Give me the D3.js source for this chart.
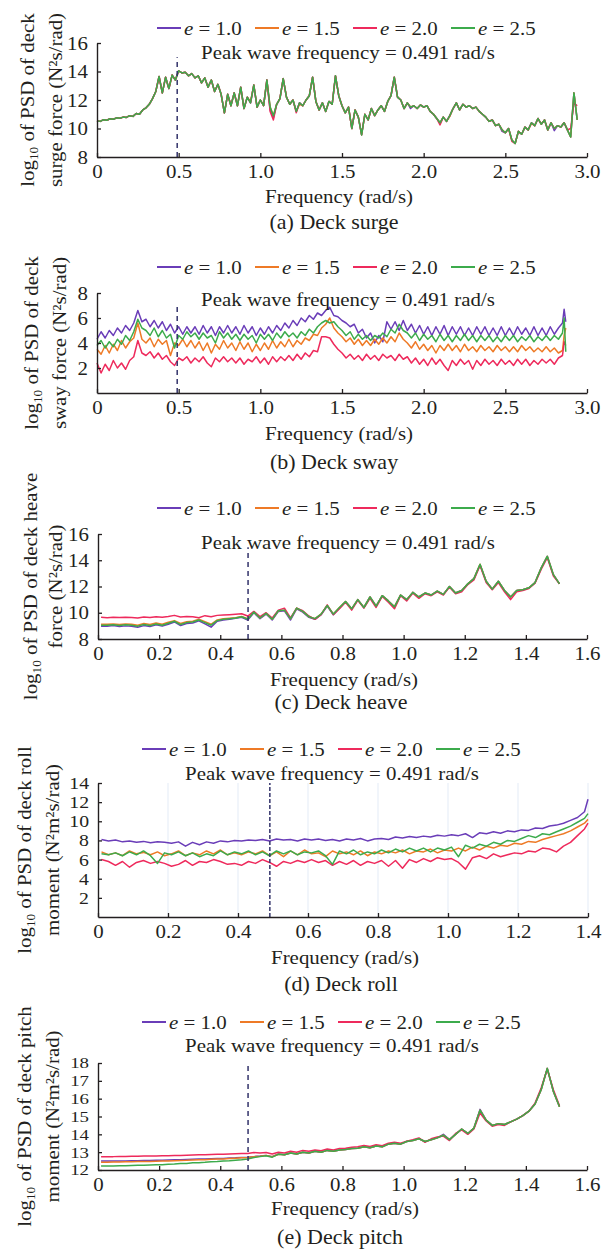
<!DOCTYPE html>
<html>
<head>
<meta charset="utf-8">
<script src="https://cdn.jsdelivr.net/npm/d3@7"></script>
<style>
  body { margin: 0; background: #fff; }
  text { font-family: "Liberation Serif", "Times New Roman", serif; fill: #231f20; }
</style>
</head>
<body>
<div id="chart"></div>
<script>
// ---------- data ----------

const seriesNames = ["1.0", "1.5", "2.0", "2.5"];
const peakWaveFreq = 0.491;

// (a) surge
const surgeFreq = [0,0.02,0.04,0.06,0.08,0.1,0.12,0.14,0.16,0.18,0.2,0.22,0.24,0.26,0.28,0.3,0.32,0.34,0.36,0.38,0.4,0.42,0.44,0.46,0.48,0.5,0.52,0.54,0.56,0.58,0.6,0.62,0.64,0.66,0.68,0.7,0.72,0.74,0.76,0.78,0.8,0.82,0.84,0.86,0.88,0.9,0.92,0.94,0.96,0.98,1,1.02,1.04,1.06,1.08,1.1,1.12,1.14,1.16,1.18,1.2,1.22,1.24,1.26,1.28,1.3,1.32,1.34,1.36,1.38,1.4,1.42,1.44,1.46,1.48,1.5,1.52,1.54,1.56,1.58,1.6,1.62,1.64,1.66,1.68,1.7,1.72,1.74,1.76,1.78,1.8,1.82,1.84,1.86,1.88,1.9,1.92,1.94,1.96,1.98,2,2.02,2.04,2.06,2.08,2.1,2.12,2.14,2.16,2.18,2.2,2.22,2.24,2.26,2.28,2.3,2.32,2.34,2.36,2.38,2.4,2.42,2.44,2.46,2.48,2.5,2.52,2.54,2.56,2.58,2.6,2.62,2.64,2.66,2.68,2.7,2.72,2.74,2.76,2.78,2.8,2.82,2.84,2.86,2.88,2.9,2.92,2.94];
const surgeE10 = [10.55,10.50,10.62,10.58,10.68,10.65,10.75,10.72,10.80,10.78,
  10.90,10.85,11.05,11.00,11.30,11.45,11.70,12.10,12.60,13.65,
  12.50,13.60,12.80,13.75,13.40,14.05,13.90,13.95,13.70,13.85,
  13.55,13.70,13.20,13.55,12.90,13.40,12.60,13.10,12.40,11.10,
  12.40,11.60,12.50,11.60,12.90,11.40,12.20,11.80,13.05,11.50,
  12.00,11.60,13.40,11.30,10.75,11.70,12.10,13.50,12.20,11.70,
  12.00,11.20,11.80,11.60,12.00,12.30,13.60,11.90,11.30,11.80,
  11.20,11.90,11.70,13.70,12.30,11.60,11.10,11.50,10.00,11.30,
  10.80,9.55,11.00,10.60,11.40,10.90,11.30,11.60,11.20,11.90,
  12.30,13.60,12.20,12.00,11.40,11.80,11.40,11.60,11.40,11.65,
  11.50,11.60,11.20,11.00,10.70,10.40,10.80,10.50,10.90,11.40,
  11.80,11.30,11.70,11.50,11.60,11.40,11.50,11.20,11.00,10.80,
  10.50,10.60,10.20,10.30,9.80,9.70,10.00,9.20,8.95,9.80,
  9.60,10.10,9.90,10.40,10.20,10.70,10.30,10.60,9.90,10.40,
  9.85,10.20,10.10,10.40,9.90,9.40,12.50,10.60];
const surgeE15 = [10.55,10.50,10.62,10.58,10.68,10.65,10.75,10.72,10.80,10.78,
  10.90,10.85,11.05,11.00,11.30,11.45,11.70,12.10,12.60,13.65,
  12.50,13.60,12.80,13.75,13.40,14.05,13.90,13.95,13.70,13.85,
  13.55,13.70,13.20,13.55,12.90,13.40,12.60,13.10,12.40,11.10,
  12.40,11.60,12.50,11.60,12.90,11.40,12.20,11.90,13.05,11.50,
  12.00,11.60,13.40,11.50,10.90,11.70,12.10,13.50,12.20,11.70,
  12.00,11.20,11.70,11.60,12.00,12.30,13.60,11.90,11.30,11.80,
  11.20,11.90,11.70,13.70,12.30,11.60,11.10,11.50,10.00,11.30,
  10.80,9.55,11.00,10.60,11.40,10.90,11.30,11.60,11.20,11.90,
  12.30,13.60,12.20,12.00,11.40,11.80,11.50,11.60,11.40,11.65,
  11.50,11.60,11.20,11.00,10.70,10.40,10.80,10.50,10.85,11.40,
  11.80,11.30,11.70,11.50,11.60,11.40,11.50,11.20,11.00,10.80,
  10.50,10.60,10.20,10.30,9.90,9.70,10.00,9.20,8.95,9.80,
  9.60,10.10,9.90,10.35,10.20,10.70,10.30,10.60,9.90,10.40,
  10.00,10.20,10.10,10.40,9.90,9.40,12.50,10.60];
const surgeE20 = [10.55,10.50,10.62,10.58,10.68,10.65,10.75,10.72,10.80,10.78,
  10.90,10.85,11.05,11.00,11.30,11.45,11.70,12.10,12.60,13.65,
  12.50,13.60,12.80,13.75,13.40,14.05,13.90,13.95,13.70,13.85,
  13.55,13.70,13.20,13.55,12.90,13.40,12.60,13.10,12.40,11.10,
  12.40,11.60,12.50,11.60,12.90,11.40,12.20,11.80,13.05,11.50,
  12.00,11.60,13.40,11.20,10.60,11.70,12.10,13.50,12.20,11.70,
  12.00,11.10,11.80,11.60,12.00,12.30,13.60,11.90,11.30,11.80,
  11.20,11.90,11.70,13.70,12.30,11.60,11.10,11.50,10.00,11.30,
  10.80,9.60,11.00,10.60,11.40,10.90,11.30,11.60,11.20,11.90,
  12.30,13.60,12.20,12.00,11.40,11.80,11.50,11.60,11.40,11.65,
  11.50,11.60,11.20,11.00,10.70,10.25,10.80,10.50,10.90,11.40,
  11.80,11.30,11.70,11.50,11.60,11.40,11.50,11.20,11.00,10.80,
  10.50,10.60,10.20,10.30,9.90,9.70,10.00,9.10,8.95,9.80,
  9.60,10.10,9.90,10.40,10.20,10.70,10.30,10.60,9.90,10.40,
  10.00,10.20,10.10,10.40,9.90,10.00,11.80,11.60];
const surgeE25 = [10.55,10.50,10.62,10.58,10.68,10.65,10.75,10.72,10.80,10.78,
  10.90,10.85,11.05,11.00,11.30,11.45,11.70,12.10,12.60,13.65,
  12.50,13.60,12.80,13.75,13.40,14.05,13.90,13.95,13.70,13.85,
  13.55,13.70,13.20,13.55,12.90,13.40,12.60,13.10,12.40,11.10,
  12.40,11.60,12.50,11.60,12.90,11.40,12.20,11.80,13.05,11.50,
  12.00,11.60,13.40,11.50,10.90,11.70,12.10,13.50,12.20,11.70,
  12.00,11.20,11.80,11.60,12.00,12.30,13.60,11.90,11.30,11.80,
  11.20,11.90,11.70,13.70,12.30,11.60,11.10,11.50,10.00,11.30,
  10.80,9.55,11.00,10.60,11.40,10.90,11.30,11.60,11.20,11.90,
  12.30,13.60,12.20,12.00,11.40,11.80,11.50,11.60,11.40,11.65,
  11.50,11.60,11.20,11.00,10.70,10.40,10.80,10.50,10.90,11.40,
  11.80,11.30,11.70,11.50,11.60,11.40,11.50,11.20,11.00,10.80,
  10.50,10.60,10.20,10.30,9.90,9.70,10.00,9.20,8.95,9.80,
  9.60,10.10,9.90,10.40,10.20,10.70,10.30,10.60,9.90,10.40,
  10.00,10.20,10.10,10.40,9.90,9.40,12.50,10.60];

// (b) sway
const swayFreq = [0,0.025,0.05,0.075,0.1,0.125,0.15,0.175,0.2,0.225,0.25,0.275,0.3,0.325,0.35,0.375,0.4,0.425,0.45,0.475,0.5,0.525,0.55,0.575,0.6,0.625,0.65,0.675,0.7,0.725,0.75,0.775,0.8,0.825,0.85,0.875,0.9,0.925,0.95,0.975,1,1.025,1.05,1.075,1.1,1.125,1.15,1.175,1.2,1.225,1.25,1.275,1.3,1.325,1.35,1.375,1.4,1.425,1.45,1.475,1.5,1.525,1.55,1.575,1.6,1.625,1.65,1.675,1.7,1.725,1.75,1.775,1.8,1.825,1.85,1.875,1.9,1.925,1.95,1.975,2,2.025,2.05,2.075,2.1,2.125,2.15,2.175,2.2,2.225,2.25,2.275,2.3,2.325,2.35,2.375,2.4,2.425,2.45,2.475,2.5,2.525,2.55,2.575,2.6,2.625,2.65,2.675,2.7,2.725,2.75,2.775,2.8,2.825,2.85,2.86,2.87];
const swayE10 = [4.3,4.9,4.4,5.0,4.6,5.2,4.8,5.4,5.0,5.6,
  6.6,5.7,5.9,5.3,5.8,5.2,5.7,5.0,5.5,4.8,
  5.3,4.7,5.3,4.8,5.3,4.7,5.4,4.8,5.3,4.6,
  5.3,4.8,5.4,4.8,5.3,4.7,5.4,4.8,5.3,4.6,
  5.2,4.7,5.3,4.8,5.4,5.0,5.6,5.2,5.8,5.4,
  6.0,5.7,6.2,5.9,6.4,6.2,6.6,6.85,6.2,6.1,
  5.8,5.6,5.3,5.5,4.8,5.1,4.4,4.8,4.0,4.6,
  4.1,5.7,5.1,5.7,5.0,5.8,5.0,5.5,4.8,5.4,
  4.7,5.3,4.6,5.3,4.7,5.4,4.6,5.3,4.7,5.3,
  4.6,5.2,4.6,5.3,4.7,5.3,4.6,5.2,4.6,5.3,
  4.6,5.2,4.6,5.3,4.7,5.2,4.6,5.3,4.6,5.2,
  4.6,5.3,4.7,5.2,5.6,6.7,5.7];
const swayE15 = [3.5,3.1,3.8,3.2,3.9,3.4,4.2,3.6,4.1,4.4,
  5.6,4.3,4.0,4.4,3.7,4.3,3.9,4.2,3.0,4.0,
  3.8,4.3,3.7,4.2,3.6,4.1,3.4,4.0,3.2,3.9,
  3.5,4.2,3.6,4.0,3.4,4.1,3.5,4.0,3.3,3.9,
  3.4,4.0,3.5,4.2,3.6,4.1,3.7,4.3,3.7,4.2,
  3.9,4.4,4.2,4.7,4.6,5.2,5.5,6.0,5.2,4.8,
  4.5,4.1,4.4,3.9,4.3,3.8,4.2,3.8,4.3,3.9,
  4.4,4.0,4.5,4.1,4.8,4.3,4.0,3.6,4.1,3.5,
  3.9,3.4,3.8,3.2,3.8,3.4,3.9,3.4,3.8,3.3,
  3.9,3.4,3.7,3.3,3.8,3.4,3.7,3.3,3.8,3.4,
  3.7,3.3,3.7,3.3,3.8,3.4,3.7,3.3,3.6,3.3,
  3.7,3.3,3.6,3.2,3.4,4.6,5.2];
const swayE20 = [2.4,1.6,2.3,1.8,2.6,2.0,2.4,1.9,2.6,2.9,
  4.2,3.2,3.0,3.3,2.8,3.2,2.7,3.0,2.5,2.2,
  2.8,2.6,2.9,2.4,2.8,2.5,2.9,2.4,2.1,2.8,
  2.5,2.9,2.5,2.8,2.4,2.8,2.3,2.7,2.5,2.9,
  2.4,2.8,2.3,2.9,2.5,2.9,2.6,3.0,2.6,3.1,
  2.7,3.2,2.9,3.4,3.3,4.5,4.5,4.4,3.9,3.5,
  3.2,2.8,3.1,2.7,3.0,2.6,3.1,2.7,3.0,2.6,
  3.1,2.8,3.0,2.6,3.1,2.7,2.9,2.4,2.8,2.3,
  2.7,2.2,2.8,2.3,2.7,2.2,1.8,2.6,2.2,2.7,
  2.3,2.6,1.9,2.6,2.2,2.7,2.3,2.6,2.2,2.7,
  2.3,2.6,2.2,2.7,2.3,2.7,2.2,2.6,2.3,2.7,
  2.4,2.7,2.3,2.8,3.0,4.1,3.8];
const swayE25 = [3.8,4.2,3.6,4.1,3.7,4.3,3.9,4.6,4.2,4.9,
  5.9,5.2,5.0,4.6,5.2,4.5,5.0,4.4,4.7,3.6,
  4.6,4.3,4.9,4.5,4.8,4.3,4.8,4.4,4.6,4.0,
  4.9,4.4,4.8,4.3,4.7,4.2,4.7,4.3,4.6,4.0,
  4.7,4.3,4.7,4.2,4.8,4.4,4.9,4.5,4.8,4.4,
  4.9,4.6,5.1,4.8,5.3,5.6,5.8,5.6,5.7,5.3,
  5.0,4.6,4.9,4.3,4.7,4.3,4.6,4.2,4.6,4.4,
  4.8,4.5,5.1,4.8,5.5,5.0,4.8,4.4,4.8,4.2,
  4.7,4.3,4.6,4.1,4.7,4.2,4.6,4.1,4.6,4.2,
  4.7,4.2,4.6,4.1,4.6,4.2,4.6,4.1,4.5,4.1,
  4.6,4.2,4.6,4.1,4.5,4.2,4.6,4.1,4.5,4.2,
  4.6,4.2,4.6,4.3,4.8,6.0,3.3];

// (c) heave
const heaveFreq = [0.01,0.03,0.05,0.07,0.09,0.11,0.13,0.15,0.17,0.19,0.21,0.23,0.25,0.27,0.29,0.31,0.33,0.35,0.37,0.39,0.41,0.43,0.45,0.47,0.49,0.51,0.53,0.55,0.57,0.59,0.61,0.63,0.65,0.67,0.69,0.71,0.73,0.75,0.77,0.79,0.81,0.83,0.85,0.87,0.89,0.91,0.93,0.95,0.97,0.99,1.01,1.03,1.05,1.07,1.09,1.11,1.13,1.15,1.17,1.19,1.21,1.23,1.25,1.27,1.29,1.31,1.33,1.35,1.37,1.39,1.41,1.43,1.45,1.47,1.49,1.51];
const heaveE10 = [8.98,8.98,9.02,8.95,9.00,8.98,8.90,9.02,8.95,9.08,
  8.98,9.12,9.30,9.02,9.18,9.22,9.38,9.15,8.90,9.35,
  9.45,9.50,9.58,9.65,9.45,10.00,9.55,9.90,9.45,10.10,
  10.15,9.45,10.30,10.05,9.65,9.50,9.85,10.50,9.85,10.35,
  10.85,10.30,11.00,10.40,11.20,10.50,11.30,10.90,10.45,11.35,
  11.00,11.55,11.20,11.50,11.35,11.65,11.40,12.00,11.50,11.70,
  12.20,12.60,13.65,12.40,11.80,12.40,11.70,11.20,11.70,11.75,
  11.90,12.30,13.40,14.30,12.90,12.20];
const heaveE15 = [9.12,9.12,9.15,9.10,9.15,9.12,9.05,9.18,9.10,9.22,
  9.12,9.28,9.40,9.18,9.32,9.36,9.50,9.32,9.12,9.45,
  9.55,9.58,9.62,9.72,9.55,10.05,9.60,9.95,9.50,10.15,
  10.20,9.55,10.35,10.10,9.70,9.55,9.90,10.55,9.90,10.40,
  10.85,10.30,11.00,10.40,11.20,10.50,11.30,10.90,10.45,11.35,
  11.00,11.55,11.20,11.50,11.35,11.65,11.40,12.00,11.50,11.70,
  12.20,12.60,13.70,12.40,11.80,12.40,11.70,11.20,11.70,11.75,
  11.90,12.30,13.40,14.30,12.90,12.20];
const heaveE20 = [9.65,9.62,9.66,9.63,9.65,9.64,9.60,9.68,9.63,9.70,
  9.66,9.72,9.80,9.68,9.72,9.70,9.62,9.78,9.70,9.80,
  9.82,9.85,9.88,9.92,9.75,10.10,9.70,10.00,9.60,10.20,
  10.35,9.60,10.35,10.15,9.75,9.50,9.85,10.60,9.85,10.30,
  10.80,10.20,10.95,10.35,11.10,10.40,11.25,10.80,10.30,11.30,
  10.90,11.50,11.10,11.45,11.30,11.60,11.35,11.95,11.45,11.60,
  12.15,12.50,13.60,12.30,11.75,12.30,11.60,11.00,11.60,11.70,
  11.85,12.25,13.30,14.20,12.80,12.20];
const heaveE25 = [9.05,9.05,9.08,9.02,9.08,9.05,8.98,9.10,9.02,9.15,
  9.05,9.20,9.35,9.10,9.25,9.30,9.45,9.25,9.05,9.40,
  9.50,9.55,9.60,9.70,9.50,10.05,9.60,9.95,9.50,10.15,
  10.20,9.55,10.35,10.10,9.70,9.55,9.90,10.55,9.90,10.40,
  10.85,10.30,11.00,10.40,11.20,10.50,11.30,10.90,10.45,11.35,
  11.00,11.55,11.20,11.50,11.35,11.65,11.40,12.00,11.50,11.70,
  12.20,12.60,13.70,12.40,11.80,12.40,11.70,11.20,11.70,11.75,
  11.90,12.30,13.40,14.30,12.90,12.20];

// (d) roll
const rollFreq = [0.01,0.03,0.05,0.07,0.09,0.11,0.13,0.15,0.17,0.19,0.21,0.23,0.25,0.27,0.29,0.31,0.33,0.35,0.37,0.39,0.41,0.43,0.45,0.47,0.49,0.51,0.53,0.55,0.57,0.59,0.61,0.63,0.65,0.67,0.69,0.71,0.73,0.75,0.77,0.79,0.81,0.83,0.85,0.87,0.89,0.91,0.93,0.95,0.97,0.99,1.01,1.03,1.05,1.07,1.09,1.11,1.13,1.15,1.17,1.19,1.21,1.23,1.25,1.27,1.29,1.31,1.33,1.35,1.37,1.39,1.4];
const rollE10 = [8.10,7.95,8.05,7.85,7.95,7.80,7.90,7.75,7.85,7.80,
  7.70,7.85,7.40,7.80,7.55,7.85,7.70,7.95,7.85,8.00,
  7.95,8.05,8.00,8.10,7.95,8.15,8.05,8.10,7.95,8.15,
  8.05,8.15,8.00,8.10,7.95,8.15,8.05,8.20,7.95,8.15,
  8.20,8.10,8.35,8.25,8.40,8.30,8.45,8.35,8.55,8.45,
  8.60,8.50,8.70,8.30,8.80,8.70,8.90,8.75,9.00,8.90,
  9.10,9.05,9.30,9.25,9.50,9.60,9.80,10.10,10.40,11.00,
  12.30];
const rollE15 = [6.80,6.50,6.70,6.40,6.90,6.60,6.75,6.50,6.80,6.40,
  6.60,6.90,6.40,6.70,6.50,6.90,6.60,7.00,6.50,6.70,
  6.50,6.80,6.60,6.90,6.40,6.80,6.30,6.90,6.50,7.00,
  6.60,6.70,6.30,6.90,6.60,6.80,6.50,6.90,6.40,6.80,
  6.60,6.90,6.70,7.00,6.60,6.90,6.80,7.10,6.70,7.00,
  6.90,7.20,6.90,7.30,7.00,7.40,7.20,7.50,7.40,7.70,
  7.60,7.90,7.80,8.10,8.30,8.50,8.70,9.00,9.40,9.80,
  10.20];
const rollE20 = [6.00,5.80,5.40,5.80,5.20,5.70,5.90,5.60,5.80,5.60,
  5.30,5.50,5.90,5.40,5.80,5.70,6.00,5.80,5.50,5.60,
  5.40,5.80,5.60,6.00,5.70,5.30,5.80,5.60,5.90,5.70,
  6.00,5.70,5.90,5.40,5.80,5.50,5.90,5.40,5.80,5.60,
  5.90,5.30,5.90,5.10,6.00,5.70,6.10,5.80,6.20,6.00,
  6.10,5.70,5.00,6.20,6.40,6.10,6.60,6.30,6.50,6.70,
  6.60,6.90,6.80,7.20,7.10,6.80,7.40,7.80,8.50,9.20,
  9.80];
const rollE25 = [6.60,6.50,6.70,6.40,6.80,6.50,6.90,6.40,5.60,6.70,
  6.50,6.80,6.40,6.70,6.30,6.60,6.40,6.90,6.50,6.80,
  6.60,6.90,6.50,6.80,6.40,6.90,6.60,6.90,6.50,6.80,
  6.70,6.90,6.40,5.50,6.90,6.60,7.00,6.50,6.80,6.60,
  7.00,6.70,7.10,6.80,7.20,6.90,7.20,6.80,7.20,7.00,
  7.30,6.30,7.50,7.20,7.60,7.40,7.80,7.60,8.00,7.90,
  8.20,8.50,8.30,8.70,8.60,8.90,9.20,9.50,9.90,10.30,
  10.80];

// (e) pitch
const pitchFreq = [0.01,0.03,0.05,0.07,0.09,0.11,0.13,0.15,0.17,0.19,0.21,0.23,0.25,0.27,0.29,0.31,0.33,0.35,0.37,0.39,0.41,0.43,0.45,0.47,0.49,0.51,0.53,0.55,0.57,0.59,0.61,0.63,0.65,0.67,0.69,0.71,0.73,0.75,0.77,0.79,0.81,0.83,0.85,0.87,0.89,0.91,0.93,0.95,0.97,0.99,1.01,1.03,1.05,1.07,1.09,1.11,1.13,1.15,1.17,1.19,1.21,1.23,1.25,1.27,1.29,1.31,1.33,1.35,1.37,1.39,1.41,1.43,1.45,1.47,1.49,1.51];
const pitchE10 = [12.50,12.50,12.50,12.51,12.51,12.52,12.52,12.53,12.53,12.54,
  12.55,12.56,12.57,12.58,12.59,12.60,12.61,12.62,12.63,12.64,
  12.65,12.67,12.68,12.70,12.72,12.75,12.78,12.82,12.75,12.90,
  12.85,12.95,12.90,13.00,12.95,13.05,13.00,13.10,13.05,13.12,
  13.15,13.20,13.22,13.30,13.25,13.35,13.30,13.45,13.50,13.45,
  13.60,13.65,13.75,13.60,13.70,13.80,14.00,13.70,14.00,14.30,
  14.05,14.35,15.40,14.80,14.50,14.60,14.55,14.70,14.85,15.05,
  15.30,15.70,16.50,17.70,16.40,15.55];
const pitchE15 = [12.44,12.44,12.45,12.45,12.46,12.46,12.47,12.47,12.48,12.49,
  12.50,12.51,12.52,12.53,12.54,12.56,12.57,12.58,12.60,12.61,
  12.62,12.64,12.66,12.68,12.70,12.74,12.77,12.82,12.74,12.88,
  12.85,12.95,12.90,13.00,12.95,13.05,13.00,13.10,13.05,13.12,
  13.15,13.20,13.22,13.30,13.25,13.35,13.30,13.45,13.50,13.45,
  13.60,13.65,13.75,13.60,13.70,13.80,13.95,13.70,14.00,14.30,
  14.05,14.35,15.35,14.80,14.50,14.60,14.55,14.70,14.85,15.05,
  15.30,15.70,16.50,17.70,16.40,15.55];
const pitchE20 = [12.75,12.75,12.75,12.76,12.76,12.77,12.77,12.78,12.78,12.79,
  12.80,12.80,12.81,12.82,12.83,12.84,12.85,12.86,12.87,12.88,
  12.89,12.90,12.91,12.92,12.93,12.98,12.95,12.98,12.90,13.00,
  12.95,13.05,13.00,13.10,13.05,13.12,13.08,13.18,13.12,13.20,
  13.22,13.28,13.30,13.38,13.32,13.42,13.36,13.50,13.55,13.50,
  13.62,13.70,13.80,13.55,13.75,13.85,13.90,13.65,14.05,14.25,
  14.00,14.30,15.20,14.75,14.45,14.55,14.50,14.70,14.85,15.05,
  15.30,15.75,16.60,17.65,16.50,15.60];
const pitchE25 = [12.22,12.22,12.23,12.24,12.24,12.25,12.26,12.27,12.28,12.29,
  12.30,12.32,12.33,12.36,12.37,12.40,12.41,12.43,12.46,12.47,
  12.50,12.52,12.55,12.58,12.62,12.70,12.75,12.80,12.72,12.88,
  12.85,12.95,12.90,13.00,12.95,13.05,13.00,13.10,13.05,13.12,
  13.15,13.20,13.22,13.30,13.25,13.35,13.30,13.45,13.50,13.45,
  13.60,13.65,13.75,13.60,13.70,13.80,13.95,13.70,14.00,14.30,
  14.05,14.35,15.35,14.80,14.50,14.60,14.55,14.70,14.85,15.05,
  15.30,15.70,16.50,17.70,16.40,15.55];

// tick labels
const xTicksWide = [0, 0.5, 1.0, 1.5, 2.0, 2.5, 3.0];
const xTicks16 = [0, 0.2, 0.4, 0.6, 0.8, 1.0, 1.2, 1.4, 1.6];
const xTicks14 = [0, 0.2, 0.4, 0.6, 0.8, 1.0, 1.2, 1.4];
const surgeTicks = [8, 10, 12, 14, 16];
const swayTicks = [2, 4, 6, 8];
const heaveTicks = [8, 10, 12, 14, 16];
const rollTicks = [2, 4, 6, 8, 10, 12, 14];
const pitchTicks = [12, 13, 14, 15, 16, 17, 18];

// ---------- styling / layout ----------

const seriesColors = ["#6a3db8", "#ee7a26", "#ee2a5c", "#3cab4c"];
const width = 611;
const height = 1250;
const FS = 19;     // font size
const SX = 1.1;    // the figure's serif type is a bit wider than Times

const panels = [
  { freq: surgeFreq, series: [surgeE10, surgeE15, surgeE20, surgeE25],
    x0: 97, x1: 587, yTop: 43, yBot: 157, xMax: 3.0, xTicks: xTicksWide,
    yDomain: [8, 16], yTicks: surgeTicks, yTickFS: FS, dashTo: 15,
    legendX: 157, legendY: 28, peakX: 348, peakY: 52,
    xlabelX: 339, xlabelY: 196, captionX: 334, captionY: 222,
    yl1X: 27, yl2X: 55, ylab1: " of PSD of deck", ylab2: "surge force (N²s/rad)",
    caption: "(a) Deck surge", dash: "5,4", grid: false },
  { freq: swayFreq, series: [swayE10, swayE15, swayE20, swayE25],
    x0: 97, x1: 587, yTop: 293, yBot: 393, xMax: 3.0, xTicks: xTicksWide,
    yDomain: [0, 8], yTicks: swayTicks, yTickFS: FS, dashTo: 7,
    legendX: 157, legendY: 267, peakX: 348, peakY: 299,
    xlabelX: 339, xlabelY: 433, captionX: 334, captionY: 462,
    yl1X: 31, yl2X: 59, ylab1: " of PSD of deck", ylab2: "sway force (N²s/rad)",
    caption: "(b) Deck sway", dash: "5,4", grid: false },
  { freq: heaveFreq, series: [heaveE10, heaveE15, heaveE20, heaveE25],
    x0: 98, x1: 587, yTop: 534, yBot: 639, xMax: 1.6, xTicks: xTicks16,
    yDomain: [8, 16], yTicks: heaveTicks, yTickFS: FS, dashTo: 15,
    legendX: 157, legendY: 508, peakX: 348, peakY: 542,
    xlabelX: 344, xlabelY: 679, captionX: 341, captionY: 702,
    yl1X: 30, yl2X: 55, ylab1: " of PSD of deck heave", ylab2: "force (N²s/rad)",
    caption: "(c) Deck heave", dash: "5,4", grid: false },
  { freq: rollFreq, series: [rollE10, rollE15, rollE20, rollE25],
    x0: 98, x1: 588, yTop: 783, yBot: 917, xMax: 1.4, xTicks: xTicks14,
    yDomain: [0, 14], yTicks: rollTicks, yTickFS: 17, dashTo: 14,
    legendX: 142, legendY: 749, peakX: 332, peakY: 773,
    xlabelX: 345, xlabelY: 957, captionX: 341, captionY: 984,
    yl1X: 24, yl2X: 52, ylab1: " of PSD of deck roll", ylab2: "moment (N²m²s/rad)",
    caption: "(d) Deck roll", dash: "4,2", grid: true },
  { freq: pitchFreq, series: [pitchE10, pitchE15, pitchE20, pitchE25],
    x0: 98, x1: 587, yTop: 1063, yBot: 1170, xMax: 1.6, xTicks: xTicks16,
    yDomain: [12, 18], yTicks: pitchTicks, yTickFS: 15.5, dashTo: 18,
    legendX: 142, legendY: 1022, peakX: 332, peakY: 1045,
    xlabelX: 345, xlabelY: 1208, captionX: 340, captionY: 1237,
    yl1X: 24, yl2X: 52, ylab1: " of PSD of deck pitch", ylab2: "moment (N²m²s/rad)",
    caption: "(e) Deck pitch", dash: "5,4", grid: false },
];

const svg = d3.select("#chart").append("svg")
  .attr("width", width)
  .attr("height", height)
  .style("background", "#fff");

// text with optional italic / subscript pieces, stretched horizontally
function richText(parent, x, y, parts, anchor = "middle", rotate = 0, size = FS) {
  const t = parent.append("text")
    .attr("transform", `translate(${x},${y})${rotate ? ` rotate(${rotate})` : ""} scale(${SX},1)`)
    .attr("text-anchor", anchor)
    .attr("dy", "0.35em")
    .style("font-size", size + "px");
  parts.forEach((p) => {
    const s = t.append("tspan").text(p.t);
    if (p.italic) s.style("font-style", "italic");
    if (p.sub) s.style("font-size", "12px").attr("dy", 4);
    if (p.back) s.attr("dy", -4);
  });
  return t;
}

const xFmt = (d) => (d === 0 ? "0" : d.toFixed(1));

panels.forEach((p) => {
  const g = svg.append("g");

  const x = d3.scaleLinear().domain([0, p.xMax]).range([p.x0, p.x1]);
  const y = d3.scaleLinear().domain(p.yDomain).range([p.yBot, p.yTop]);

  // faint grid (roll panel only)
  if (p.grid) {
    g.append("g")
      .selectAll("line")
      .data(p.xTicks.slice(1))
      .join("line")
      .attr("x1", (d) => x(d))
      .attr("x2", (d) => x(d))
      .attr("y1", p.yBot)
      .attr("y2", p.yTop)
      .attr("stroke", "#e3ebf6")
      .attr("stroke-width", 1);
  }

  // series
  const line = d3
    .line()
    .defined((d) => d[1] != null)
    .x((d) => x(d[0]))
    .y((d) => y(d[1]));

  p.series.forEach((vals, i) => {
    g.append("path")
      .datum(p.freq.map((f, j) => [f, vals[j]]))
      .attr("fill", "none")
      .attr("stroke", seriesColors[i])
      .attr("stroke-width", 1.5)
      .attr("stroke-linejoin", "round")
      .attr("d", line);
  });

  // peak wave frequency marker
  g.append("line")
    .attr("x1", x(peakWaveFreq))
    .attr("x2", x(peakWaveFreq))
    .attr("y1", y(p.yDomain[0]))
    .attr("y2", y(p.dashTo))
    .attr("stroke", "#33336b")
    .attr("stroke-width", 1.5)
    .attr("stroke-dasharray", p.dash);

  // axes
  const xAxis = g.append("g")
    .attr("transform", `translate(0,${p.yBot})`)
    .call(d3.axisBottom(x).tickValues(p.xTicks).tickFormat(xFmt)
      .tickSizeInner(-4).tickSizeOuter(0).tickPadding(8));
  const yAxis = g.append("g")
    .attr("transform", `translate(${p.x0},0)`)
    .call(d3.axisLeft(y).tickValues(p.yTicks).tickFormat(d3.format("d"))
      .tickSizeInner(-4).tickSizeOuter(0).tickPadding(9));

  [xAxis, yAxis].forEach((a) => {
    a.attr("font-size", null).attr("font-family", null);
    a.select(".domain").attr("stroke", "#231f20").attr("stroke-width", 1.4);
    a.selectAll(".tick line").attr("stroke", "#231f20").attr("stroke-width", 1.3);
    a.selectAll("text").style("font-size", FS + "px").attr("fill", "#231f20")
      .attr("transform", `scale(${SX},1)`);
  });
  // tightly packed y ticks get a smaller size, widened a little more
  const ySX = SX * Math.sqrt(FS / p.yTickFS);
  yAxis.selectAll("text")
    .style("font-size", p.yTickFS + "px")
    .attr("transform", `scale(${ySX},1)`)
    .attr("x", -9 / ySX);

  // legend
  seriesNames.forEach((name, i) => {
    const lx = p.legendX + i * 98;
    g.append("line")
      .attr("x1", lx).attr("x2", lx + 24)
      .attr("y1", p.legendY).attr("y2", p.legendY)
      .attr("stroke", seriesColors[i])
      .attr("stroke-width", 2);
    richText(g, lx + 27, p.legendY, [{ t: "e", italic: true }, { t: " = " + name }], "start");
  });

  richText(g, p.peakX, p.peakY, [{ t: "Peak wave frequency = 0.491 rad/s" }]);

  // axis titles and caption
  richText(g, p.xlabelX, p.xlabelY, [{ t: "Frequency (rad/s)" }]);
  richText(g, p.captionX, p.captionY, [{ t: p.caption }], "middle", 0, 20);

  const yMid = (p.yTop + p.yBot) / 2;
  richText(g, p.yl1X, yMid, [{ t: "log" }, { t: "10", sub: true }, { t: p.ylab1, back: true }], "middle", -90);
  richText(g, p.yl2X, yMid, [{ t: p.ylab2 }], "middle", -90);
});
</script>
</body>
</html>
